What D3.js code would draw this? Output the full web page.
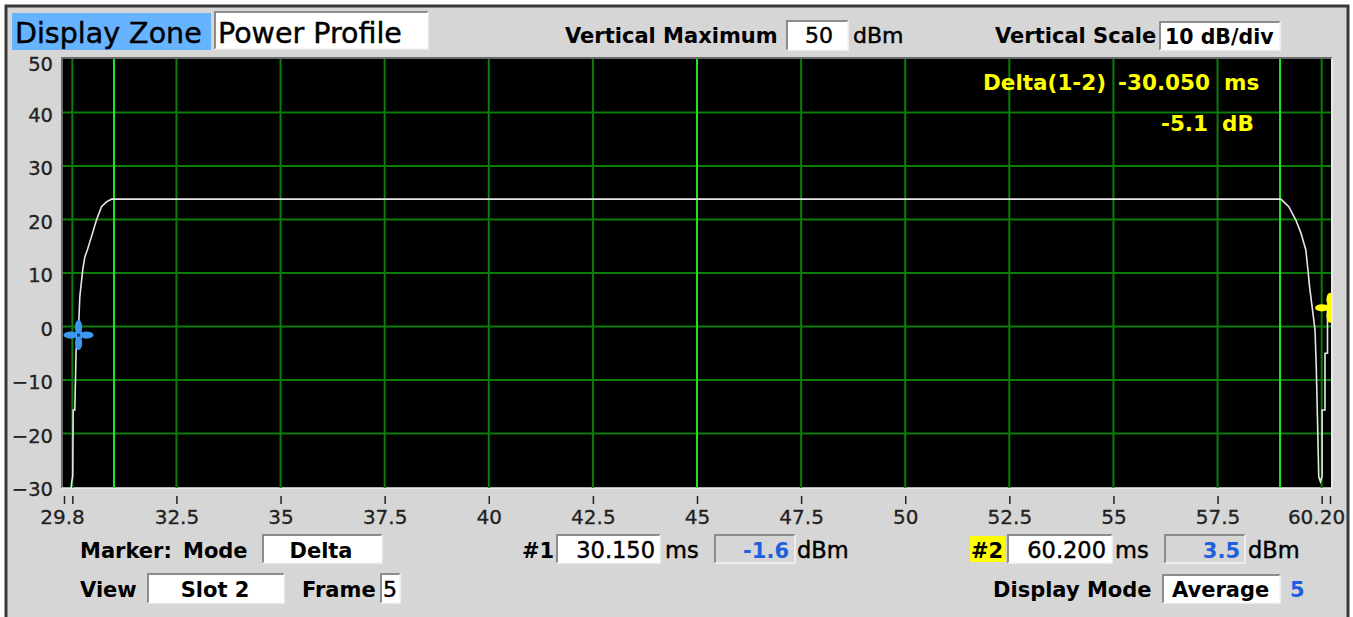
<!DOCTYPE html>
<html><head><meta charset="utf-8">
<script src="https://cdn.jsdelivr.net/npm/d3@7"></script>
<style>
html,body{margin:0;padding:0;background:#fff;}
svg{display:block;font-family:"DejaVu Sans",sans-serif;}
</style></head><body>
<svg id="c" width="1353" height="617"></svg>
<script>
// ---- data ----
const yTickValues = [50, 40, 30, 20, 10, 0, -10, -20, -30];
const xTickValues = [29.8, 30, 32.5, 35, 37.5, 40, 42.5, 45, 47.5, 50, 52.5, 55, 57.5, 60, 60.2];
const xTickLabels = ["29.8", "", "32.5", "35", "37.5", "40", "42.5", "45", "47.5", "50", "52.5", "55", "57.5", "", "60.20"];
const xGridValues = [30, 32.5, 35, 37.5, 40, 42.5, 45, 47.5, 50, 52.5, 55, 57.5, 60];
const zoneLines = [31.0, 45.0, 59.0];
const traceTime = [29.97, 29.98, 30.01, 30.02, 30.06, 30.09, 30.14, 30.18, 30.25, 30.30, 30.36, 30.46, 30.58, 30.70, 30.82, 30.94, 31.0, 40.0, 50.0, 59.02, 59.21, 59.38, 59.50, 59.62, 59.67, 59.71, 59.77, 59.84, 59.87, 59.90, 59.93, 59.97, 60.01, 60.01, 60.08, 60.08, 60.14, 60.14, 60.20];
const tracePower = [-31, -29.3, -28, -15.6, -15.6, -4.4, -1.9, 5.6, 10.6, 13.0, 14.3, 16.8, 19.9, 22.4, 23.3, 23.8, 23.8, 23.8, 23.8, 23.8, 22.4, 19.9, 17.5, 14.3, 10.6, 7.4, 3.7, -0.6, -7.5, -17.5, -28.1, -29.0, -28.0, -15.6, -15.6, -5.0, -5.0, 3.1, 3.5];
const markerTime = [30.15, 60.2];
const markerPower = [-1.6, 3.5];
const markerColor = ["#3d98ef", "#ffff00"];
const deltaTime = "-30.050";
const deltaPower = "-5.1";

// ---- setup ----
const svg = d3.select("#c");
const W = 1353, H = 617;
const px0 = 64, px1 = 1330, py0 = 59, py1 = 487;
const x = d3.scaleLinear().domain([29.8, 60.2]).range([px0, px1]);
const y = d3.scaleLinear().domain([-30, 50]).range([py1, py0]);

// background & frame
svg.append("rect").attr("width", W).attr("height", H).attr("fill", "#ffffff");
svg.append("rect").attr("x", 6).attr("y", 6).attr("width", 1342).attr("height", 620)
  .attr("fill", "#d6d6d6").attr("stroke", "#3a3a3a").attr("stroke-width", 3);

function sunken(x0, y0, w, h, fill) {
  const g = svg.append("g");
  g.append("rect").attr("x", x0).attr("y", y0).attr("width", w).attr("height", h).attr("fill", fill);
  g.append("path").attr("d", `M${x0},${y0 + h}V${y0}H${x0 + w}`).attr("fill", "none").attr("stroke", "#8c8c8c").attr("stroke-width", 2);
  g.append("path").attr("d", `M${x0 + w},${y0}V${y0 + h}H${x0}`).attr("fill", "none").attr("stroke", "#f4f4f4").attr("stroke-width", 1.5);
  return g;
}
function txt(t, x0, y0, opt = {}) {
  const fill = opt.fill || "#000";
  const el = svg.append("text").attr("x", x0).attr("y", y0).text(t)
    .attr("font-size", opt.size || 21)
    .attr("font-weight", opt.bold ? "bold" : "normal")
    .attr("fill", fill)
    .attr("text-anchor", opt.anchor || "start");
  if (!opt.bold && !opt.light) el.attr("stroke", fill).attr("stroke-width", 0.45);
  return el;
}

// ---- header ----
svg.append("rect").attr("x", 12).attr("y", 13).attr("width", 199).attr("height", 37).attr("fill", "#66b3ff");
txt("Display Zone", 15, 43, { size: 28.5 });
sunken(215, 12, 213, 37, "#ffffff");
txt("Power Profile", 218, 43, { size: 28.5 });

txt("Vertical Maximum", 565, 43, { bold: true });
sunken(787, 21, 61, 29, "#ffffff");
txt("50", 819, 43, { size: 22, anchor: "middle" });
txt("dBm", 853, 43, { size: 22 });

txt("Vertical Scale", 995, 43, { bold: true });
sunken(1160, 22, 120, 28, "#ffffff");
txt("10 dB/div", 1165, 44, { bold: true, size: 20.5 });

// ---- plot ----
svg.append("rect").attr("x", px0 - 2).attr("y", py0).attr("width", 1331 - (px0 - 2)).attr("height", py1 - py0 + 1).attr("fill", "#000");
svg.append("path").attr("d", `M${px0 - 2},${py1 + 1}V${py0 - 1}H1332`).attr("fill", "none").attr("stroke", "#6a6a6a").attr("stroke-width", 2);
svg.append("path").attr("d", `M1332,${py0 - 1}V${py1 + 1}H${px0 - 2}`).attr("fill", "none").attr("stroke", "#f0f0f0").attr("stroke-width", 1.5);

svg.append("clipPath").attr("id", "clip").append("rect")
  .attr("x", px0 - 1).attr("y", py0).attr("width", 1331 - px0 + 1).attr("height", py1 - py0 + 1);
const plot = svg.append("g").attr("clip-path", "url(#clip)");

plot.selectAll("line.hg").data(yTickValues.filter(v => v > -30 && v < 50)).join("line")
  .attr("x1", px0 - 2).attr("x2", 1331).attr("y1", d => y(d)).attr("y2", d => y(d))
  .attr("stroke", "#0a7d0a").attr("stroke-width", 2);
plot.selectAll("line.vg").data(xGridValues).join("line")
  .attr("x1", d => x(d)).attr("x2", d => x(d)).attr("y1", py0).attr("y2", py1 + 1)
  .attr("stroke", "#0a7d0a").attr("stroke-width", 2);
plot.selectAll("line.zl").data(zoneLines).join("line")
  .attr("x1", d => x(d)).attr("x2", d => x(d)).attr("y1", py0).attr("y2", py1 + 1)
  .attr("stroke", "#1ee61e").attr("stroke-width", 2);

const line = d3.line().x((d, i) => x(traceTime[i])).y((d, i) => y(tracePower[i]));
plot.append("path").datum(tracePower).attr("d", line)
  .attr("fill", "none").attr("stroke", "#e6e6e6").attr("stroke-width", 1.6);

// markers
markerTime.forEach((t, i) => {
  const cx = x(t), cy = y(markerPower[i]);
  const g = plot.append("g").attr("fill", markerColor[i]);
  g.append("ellipse").attr("cx", cx - 8).attr("cy", cy).attr("rx", 7).attr("ry", 3.6);
  g.append("ellipse").attr("cx", cx + 8).attr("cy", cy).attr("rx", 7).attr("ry", 3.6);
  g.append("ellipse").attr("cx", cx).attr("cy", cy - 8).attr("rx", 3.6).attr("ry", 7);
  g.append("ellipse").attr("cx", cx).attr("cy", cy + 8).attr("rx", 3.6).attr("ry", 7);
  g.append("rect").attr("x", cx - 3.5).attr("y", cy - 3.5).attr("width", 7).attr("height", 7);
  if (i === 0) {
    plot.append("rect").attr("x", cx - 1.5).attr("y", cy - 1.5).attr("width", 3).attr("height", 3).attr("fill", "#0b3f8a");
  }
});

// delta readout
txt("Delta(1-2)", 983, 90, { bold: true, fill: "#ffff00", size: 21.5 });
txt(deltaTime, 1210, 90, { bold: true, fill: "#ffff00", size: 21.5, anchor: "end" });
txt("ms", 1224, 90, { bold: true, fill: "#ffff00", size: 21.5 });
txt(deltaPower, 1208, 131, { bold: true, fill: "#ffff00", size: 21.5, anchor: "end" });
txt("dB", 1222, 131, { bold: true, fill: "#ffff00", size: 21.5 });

// ---- axes ----
const yAxis = d3.axisLeft(y).tickValues(yTickValues).tickSize(0).tickPadding(0);
const ya = svg.append("g").attr("transform", `translate(53,0)`).call(yAxis);
ya.select(".domain").remove();
ya.selectAll("text").attr("font-size", 19.5).attr("font-family", "DejaVu Sans").attr("fill", "#222")
  .attr("stroke", "#222").attr("stroke-width", 0.3)
  .attr("dy", d => d === 50 ? "0.6em" : "0.45em");

const xAxis = d3.axisBottom(x).tickValues(xTickValues).tickSize(8).tickPadding(6)
  .tickFormat((d, i) => xTickLabels[i]);
const xa = svg.append("g").attr("transform", `translate(0,496)`).call(xAxis);
xa.select(".domain").remove();
xa.selectAll(".tick line").attr("stroke", "#222").attr("stroke-width", 1.5);
xa.selectAll("text").attr("font-size", 20).attr("font-family", "DejaVu Sans").attr("fill", "#222")
  .attr("stroke", "#222").attr("stroke-width", 0.3)
  .attr("dx", (d, i) => i === 0 ? -2 : (i === xTickValues.length - 1 ? -14 : 0));

// ---- bottom controls ----
txt("Marker:", 80, 558, { bold: true });
txt("Mode", 183, 558, { bold: true });
sunken(263, 535, 119, 28, "#ffffff");
txt("Delta", 321, 558, { bold: true, anchor: "middle" });

txt("#1", 522, 558, { bold: true });
sunken(557, 535, 103, 28, "#ffffff");
txt(String(markerTime[0].toFixed(3)), 655, 558, { size: 22.5, anchor: "end" });
txt("ms", 665, 558, { size: 22.5 });
sunken(715, 535, 80, 28, "#d6d6d6");
txt(markerPower[0].toFixed(1), 789, 558, { bold: true, fill: "#1d5fe0", anchor: "end" });
txt("dBm", 797, 558, { size: 22.5 });

svg.append("rect").attr("x", 970).attr("y", 536).attr("width", 35).attr("height", 26).attr("fill", "#ffff00");
txt("#2", 971, 558, { bold: true });
sunken(1008, 535, 104, 28, "#ffffff");
txt(String(markerTime[1].toFixed(3)), 1106, 558, { size: 22.5, anchor: "end" });
txt("ms", 1115, 558, { size: 22.5 });
sunken(1165, 535, 80, 28, "#d6d6d6");
txt(markerPower[1].toFixed(1), 1240, 558, { bold: true, fill: "#1d5fe0", anchor: "end" });
txt("dBm", 1248, 558, { size: 22.5 });

txt("View", 80, 597, { bold: true });
sunken(148, 574, 136, 29, "#ffffff");
txt("Slot 2", 215, 597, { bold: true, anchor: "middle" });
txt("Frame", 302, 597, { bold: true });
sunken(381, 574, 19, 29, "#ffffff");
txt("5", 383, 597, { size: 22 });

txt("Display Mode", 993, 597, { bold: true });
sunken(1163, 575, 117, 28, "#ffffff");
txt("Average", 1172, 597, { bold: true });
txt("5", 1290, 597, { bold: true, fill: "#1d5fe0" });
</script>
</body></html>
